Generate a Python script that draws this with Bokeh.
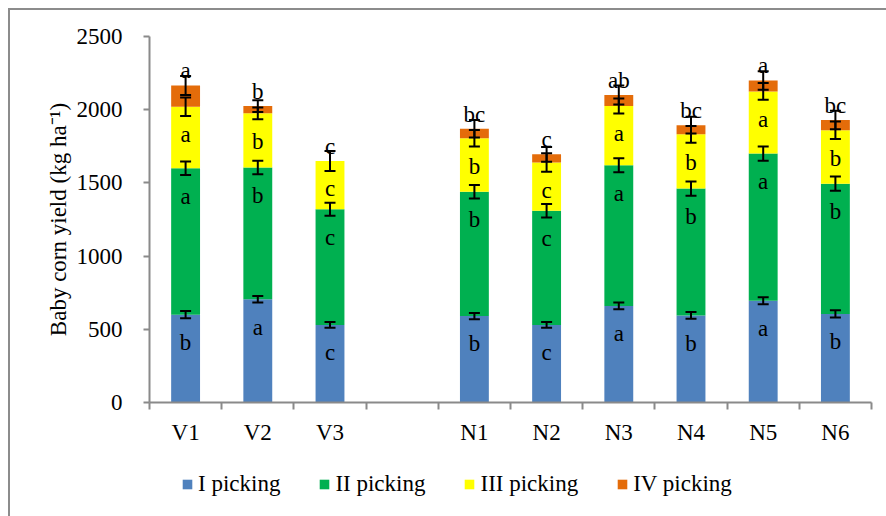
from bokeh.plotting import figure
from bokeh.layouts import column
from bokeh.models import ColumnDataSource, Range1d, FixedTicker, Whisker, TeeHead, Legend
from bokeh.core.properties import value
from bokeh.embed import file_html
from bokeh.resources import INLINE

# ---- data ----
treatments = ["V1", "V2", "V3", "N1", "N2", "N3", "N4", "N5", "N6"]
gap_after = 3  # empty slot between V and N groups
series_names = ["I picking", "II picking", "III picking", "IV picking"]
pick1 = [600, 705, 530, 590, 530, 660, 595, 695, 605]
pick2 = [1000, 900, 790, 850, 780, 960, 866, 1005, 890]
pick3 = [420, 370, 330, 365, 330, 405, 371, 425, 365]
pick4 = [145, 50, 0, 65, 55, 75, 62, 75, 70]
err1 = [25, 22, 20, 21, 20, 23, 23, 24, 25]
err2 = [46, 46, 45, 46, 46, 48, 48, 48, 48]
err3 = [63, 40, 68, 57, 63, 51, 57, 57, 60]
err4 = [65, 40, 0, 60, 50, 65, 57, 63, 63]
letters1 = ["b", "a", "c", "b", "c", "a", "b", "a", "b"]
letters2 = ["a", "b", "c", "b", "c", "a", "b", "a", "b"]
letters3 = ["a", "b", "c", "b", "c", "a", "b", "a", "b"]
letters_top = ["a", "b", "c", "bc", "c", "ab", "bc", "a", "bc"]
colors = ["#4F81BD", "#00B050", "#FFFF00", "#E46C0A"]

FONT = "Liberation Serif"
FS = "23px"
AXC = "#8a8a8a"

n_slots = len(treatments) + 1
xs = [i + 0.5 if i < gap_after else i + 1.5 for i in range(len(treatments))]

src = ColumnDataSource(dict(x=xs, p1=pick1, p2=pick2, p3=pick3, p4=pick4))

p = figure(width=876, height=460, output_backend="svg", toolbar_location=None,
           x_range=Range1d(0, n_slots), y_range=Range1d(0, 2500),
           min_border_left=139, min_border_right=15, min_border_top=26, min_border_bottom=68)
p.outline_line_color = None
p.xgrid.visible = False
p.ygrid.visible = False

renderers = p.vbar_stack(["p1", "p2", "p3", "p4"], x="x", width=0.4, color=colors,
                         line_color=None, source=src)

# error bars and letters
cum = [0] * len(treatments)
segs = [(pick1, err1, letters1), (pick2, err2, letters2), (pick3, err3, letters3), (pick4, err4, None)]
for k, (vals, errs, lets) in enumerate(segs):
    cum = [c + v for c, v in zip(cum, vals)]
    bx, up, lo = [], [], []
    for i in range(len(treatments)):
        if vals[i] > 0:
            bx.append(xs[i]); up.append(cum[i] + errs[i]); lo.append(cum[i] - errs[i])
    wsrc = ColumnDataSource(dict(base=bx, upper=up, lower=lo))
    w = Whisker(base="base", upper="upper", lower="lower", source=wsrc, level="annotation",
                line_color="black", line_width=2,
                upper_head=TeeHead(size=11, line_width=2, line_color="black"),
                lower_head=TeeHead(size=11, line_width=2, line_color="black"))
    p.add_layout(w)
    if lets is not None:
        p.text(x=xs, y=[c - 190 for c in cum], text=lets, text_font=value(FONT),
               text_font_size=FS, text_align="center", text_baseline="middle", text_color="black")

p.text(x=xs, y=[c + 100 for c in cum], text=letters_top, text_font=value(FONT),
       text_font_size=FS, text_align="center", text_baseline="middle", text_color="black")

# axes
xa = p.xaxis[0]
xa.ticker = FixedTicker(ticks=xs, minor_ticks=list(range(0, n_slots + 1)))
xa.major_label_overrides = {x: t for x, t in zip(xs, treatments)}
xa.major_tick_out = 0
xa.major_tick_in = 0
xa.minor_tick_out = 7
xa.minor_tick_in = 0
xa.minor_tick_line_color = AXC
xa.minor_tick_line_width = 2
xa.axis_line_color = AXC
xa.axis_line_width = 2
xa.major_label_text_font = FONT
xa.major_label_text_font_size = FS
xa.major_label_text_color = "black"
xa.major_label_standoff = 10

ya = p.yaxis[0]
ya.ticker = FixedTicker(ticks=[0, 500, 1000, 1500, 2000, 2500])
ya.major_tick_out = 6
ya.major_tick_in = 0
ya.minor_tick_line_color = None
ya.major_tick_line_color = AXC
ya.major_tick_line_width = 2
ya.axis_line_color = AXC
ya.axis_line_width = 2
ya.major_label_text_font = FONT
ya.major_label_text_font_size = FS
ya.major_label_text_color = "black"
ya.major_label_standoff = 21
ya.axis_label = "Baby corn yield (kg ha\u207b\u00b9)"
ya.axis_label_text_font = FONT
ya.axis_label_text_font_size = FS
ya.axis_label_text_font_style = "normal"
ya.axis_label_text_color = "black"
ya.axis_label_standoff = 3

# legend strip below the chart
q = figure(width=876, height=46, output_backend="svg", toolbar_location=None,
           x_range=Range1d(0, 1), y_range=Range1d(0, 1), x_axis_type=None, y_axis_type=None,
           min_border=0)
q.outline_line_color = None
q.xgrid.visible = False
q.ygrid.visible = False
dummies = [q.vbar(x=[-10], top=[0], width=0.4, color=c, line_color=None) for c in colors]
lg = Legend(items=[(name, [r]) for name, r in zip(series_names, dummies)],
            orientation="horizontal", location=(32, 19))
lg.border_line_color = None
lg.background_fill_alpha = 0
lg.padding = 0
lg.margin = 0
lg.spacing = 38
lg.glyph_width = 12
lg.glyph_height = 12
lg.label_standoff = 5
lg.label_text_font = FONT
lg.label_text_font_size = FS
lg.label_text_color = "black"
q.add_layout(lg)

layout = column(p, q, spacing=0)
layout.margin = (8, 0, 0, 8)
layout.styles = {"border-top": "2px solid #8c8c8c", "border-left": "2px solid #8c8c8c"}

open("out.html", "w").write(file_html(layout, INLINE))
